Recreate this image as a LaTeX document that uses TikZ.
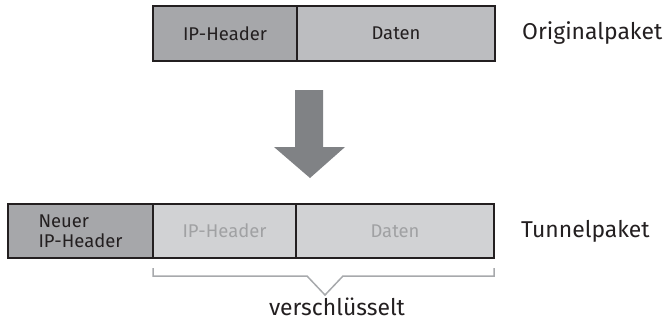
\documentclass[tikz,border=0pt]{standalone}
\usepackage{fontspec}
\setmainfont{Fira Sans}
\definecolor{darkc}{HTML}{A6A7AA}
\definecolor{midc}{HTML}{BCBDC0}
\definecolor{lightc}{HTML}{D1D2D4}
\definecolor{linec}{HTML}{231F20}
\definecolor{greytext}{HTML}{A0A1A3}
\definecolor{arrowc}{HTML}{808285}
\definecolor{bracec}{HTML}{A7A9AC}
\begin{document}
\begin{tikzpicture}[x=1bp,y=-1bp,
  cell/.style={draw=linec, line width=1.5bp, inner sep=0pt, outer sep=0pt,
    minimum height=55bp, font=\fontsize{18.5}{20}\selectfont, text=linec, align=left},
  lbl/.style={anchor=west, font=\fontsize{23}{26}\selectfont, text=linec, inner sep=0pt}]
\useasboundingbox (0,0) rectangle (672,322);
% original packet
\node[cell, fill=darkc, minimum width=144bp] (oh) at (225,33.5) {IP-Header};
\node[cell, fill=midc, minimum width=198bp, anchor=west] (od) at (oh.east) {Daten};
\node[lbl] (ol) at (522,33) {Originalpaket};
% arrow
\fill[arrowc] (295,90) -- (323,90) -- (323,147) -- (345,147) -- (310,178) -- (274,147) -- (295,147) -- cycle;
% tunnel packet
\node[cell, fill=darkc, minimum width=145bp, minimum height=54bp] (nh) at (80.5,231) {Neuer\\IP-Header};
\node[cell, fill=lightc, minimum width=143bp, minimum height=54bp, anchor=west, text=greytext] (th) at (nh.east) {IP-Header};
\node[cell, fill=lightc, minimum width=198bp, minimum height=54bp, anchor=west, text=greytext] (td) at (th.east) {Daten};
\node[lbl] (tl) at (521,231) {Tunnelpaket};
% brace
\coordinate (bl) at (th.south west |- 0,268);
\coordinate (br) at (td.south east |- 0,268);
\draw[bracec, line width=1.5bp] (bl) -- ++(0,8) -- (307,276) -- (325,295) -- (343,276) -- (br |- 0,276) -- (br);
\node[font=\fontsize{23}{26}\selectfont, text=linec, inner sep=0pt, anchor=base] (vl) at (337,315.5) {verschlüsselt};
\end{tikzpicture}
\end{document}
